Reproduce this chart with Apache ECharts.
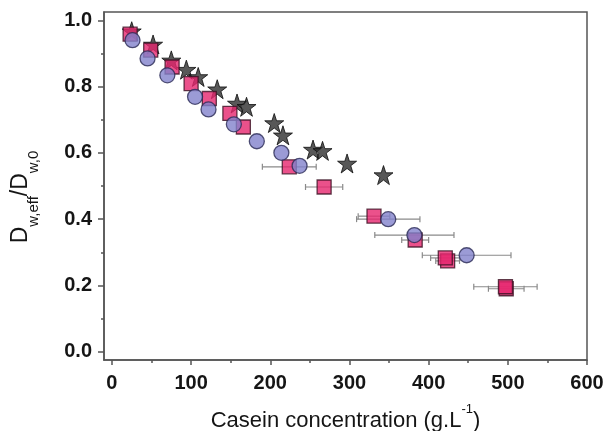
<!DOCTYPE html>
<html>
<head>
<meta charset="utf-8">
<script src="https://cdn.jsdelivr.net/npm/echarts@6/dist/echarts.min.js"></script>
<style>
    html, body { margin: 0; padding: 0; background: #fff; }
    #chart { width: 604px; height: 431px; }
</style>
</head>
<body>
<div id="chart"></div>
<script>
// data: [casein g/L, Dw,eff/Dw,0]
const starData = [
    [25, 0.967], [52, 0.927], [75, 0.879], [94, 0.851], [109, 0.829],
    [133, 0.792], [158, 0.749], [170, 0.739], [205, 0.690], [216, 0.653],
    [254, 0.610], [266, 0.606], [297, 0.568], [343, 0.533]
];
const squareData = [
    [23, 0.958], [49, 0.910], [76, 0.859], [100, 0.809], [123, 0.764],
    [149, 0.719], [166, 0.678], [224, 0.558], [268, 0.497], [331, 0.409],
    [383, 0.337], [424, 0.274], [421, 0.283], [498, 0.190], [497, 0.196]
];
// horizontal error (g/L) for each square, 0 = none
const squareErr = [0, 0, 0, 0, 0, 0, 0, 34, 23.5, 20, 17, 15, 18.5, 22.5, 40];
const circleData = [
    [26, 0.940], [45, 0.885], [70, 0.834], [105, 0.769], [122, 0.731],
    [154, 0.686], [183, 0.635], [214, 0.600], [237, 0.561], [349, 0.400],
    [382, 0.352], [448, 0.291]
];
const circleErr = [0, 0, 0, 0, 0, 0, 0, 0, 0, 40, 50, 56];

const xTicks = [0, 100, 200, 300, 400, 500, 600];
const xMinorTicks = [50, 150, 250, 350, 450, 550];
const yTicks = [0, 0.2, 0.4, 0.6, 0.8, 1.0];
const yMinorTicks = [0.1, 0.3, 0.5, 0.7, 0.9];

const FONT = 'Liberation Sans, Arial, sans-serif';
const TEXT = '#151515';
const starPath = 'path://M50,0 L61.8,35.1 L98.8,35.1 L68.9,56.8 L80.3,91.9 L50,70.2 L19.7,91.9 L31.1,56.8 L1.2,35.1 L38.2,35.1 Z';

const X_RANGE = [-10, 600];
const Y_RANGE = [-0.025, 1.025];

// build error bar items [x, y, err]
const errItems = [];
squareData.forEach((p, i) => { if (squareErr[i]) errItems.push([p[0], p[1], squareErr[i]]); });
circleData.forEach((p, i) => { if (circleErr[i]) errItems.push([p[0], p[1], circleErr[i]]); });

const chart = echarts.init(document.getElementById('chart'));

const axisLineStyle = { color: '#555', width: 1.5 };

// extra invisible axes that only carry tick marks
const tickAxis = (range, pos, values, len) => ({
    type: 'value', min: range[0], max: range[1], position: pos,
    axisLine: { show: false, onZero: false },
    axisTick: { show: true, length: len, lineStyle: { color: '#555', width: 1.5 }, customValues: values },
    axisLabel: { show: false },
    splitLine: { show: false }
});

const option = {
    animation: false,
    backgroundColor: '#fff',
    grid: {
        left: 104, right: 17, top: 12, bottom: 71,
        outerBoundsMode: 'none', containLabel: false,
        show: true, borderColor: '#555', borderWidth: 1.5
    },
    xAxis: [
        {
            type: 'value', min: X_RANGE[0], max: X_RANGE[1],
            axisLine: { show: true, onZero: false, lineStyle: axisLineStyle },
            axisTick: { show: false },
            axisLabel: {
                customValues: xTicks, margin: 13, fontSize: 20, fontWeight: 'bold', color: TEXT, fontFamily: FONT
            },
            splitLine: { show: false },
            name: '{a|Casein concentration (g.L}{sup|-1}{a|)}',
            nameLocation: 'middle', nameGap: 43,
            nameTextStyle: {
                rich: {
                    a: { fontSize: 22, color: TEXT, fontFamily: FONT, padding: [7, 0, 0, 0] },
                    sup: { fontSize: 13, color: TEXT, fontFamily: FONT, verticalAlign: 'top' }
                }
            }
        },
        tickAxis(X_RANGE, 'bottom', xTicks, 5),
        tickAxis(X_RANGE, 'bottom', xMinorTicks, 3)
    ],
    yAxis: [
        {
            type: 'value', min: Y_RANGE[0], max: Y_RANGE[1],
            axisLine: { show: true, onZero: false, lineStyle: axisLineStyle },
            axisTick: { show: false },
            axisLabel: {
                customValues: yTicks, margin: 12, fontSize: 20, fontWeight: 'bold', color: TEXT, fontFamily: FONT,
                formatter: v => v.toFixed(1)
            },
            splitLine: { show: false },
            name: '{m|D}{s|w,eff}{m|/D}{s|w,0}{pad|}',
            nameLocation: 'middle', nameGap: 63, nameRotate: 90,
            nameTextStyle: {
                rich: {
                    m: { fontSize: 23, color: TEXT, fontFamily: FONT, padding: [0, 0, 9, 0] },
                    s: { fontSize: 15, color: TEXT, fontFamily: FONT, verticalAlign: 'bottom' },
                    pad: { width: 22 }
                }
            }
        },
        tickAxis(Y_RANGE, 'left', yTicks, 6),
        tickAxis(Y_RANGE, 'left', yMinorTicks, 3)
    ],
    series: [
        {
            type: 'custom',
            name: 'err',
            data: errItems,
            z: 1,
            renderItem: function (params, api) {
                const x = api.value(0), y = api.value(1), e = api.value(2);
                const left = api.coord([x - e, y]);
                const right = api.coord([x + e, y]);
                const cap = 3;
                const style = { stroke: '#8a8a8a', lineWidth: 1.2 };
                return {
                    type: 'group',
                    children: [
                        { type: 'line', shape: { x1: left[0], y1: left[1], x2: right[0], y2: right[1] }, style },
                        { type: 'line', shape: { x1: left[0], y1: left[1] - cap, x2: left[0], y2: left[1] + cap }, style },
                        { type: 'line', shape: { x1: right[0], y1: right[1] - cap, x2: right[0], y2: right[1] + cap }, style }
                    ]
                };
            }
        },
        {
            type: 'scatter', name: 'stars', data: starData, z: 2,
            symbol: starPath, symbolSize: 19,
            itemStyle: { color: '#2e2e2e', borderColor: '#0d0d0d', borderWidth: 1 }
        },
        {
            type: 'scatter', name: 'squares', data: squareData, z: 3,
            symbol: 'rect', symbolSize: 14,
            itemStyle: { color: '#e6266e', borderColor: '#3a1022', borderWidth: 1.3 }
        },
        {
            type: 'scatter', name: 'circles', data: circleData, z: 4,
            symbol: 'circle', symbolSize: 15,
            itemStyle: { color: '#8282cc', borderColor: '#2a2a55', borderWidth: 1.3 }
        }
    ]
};

chart.setOption(option);
</script>
</body>
</html>
